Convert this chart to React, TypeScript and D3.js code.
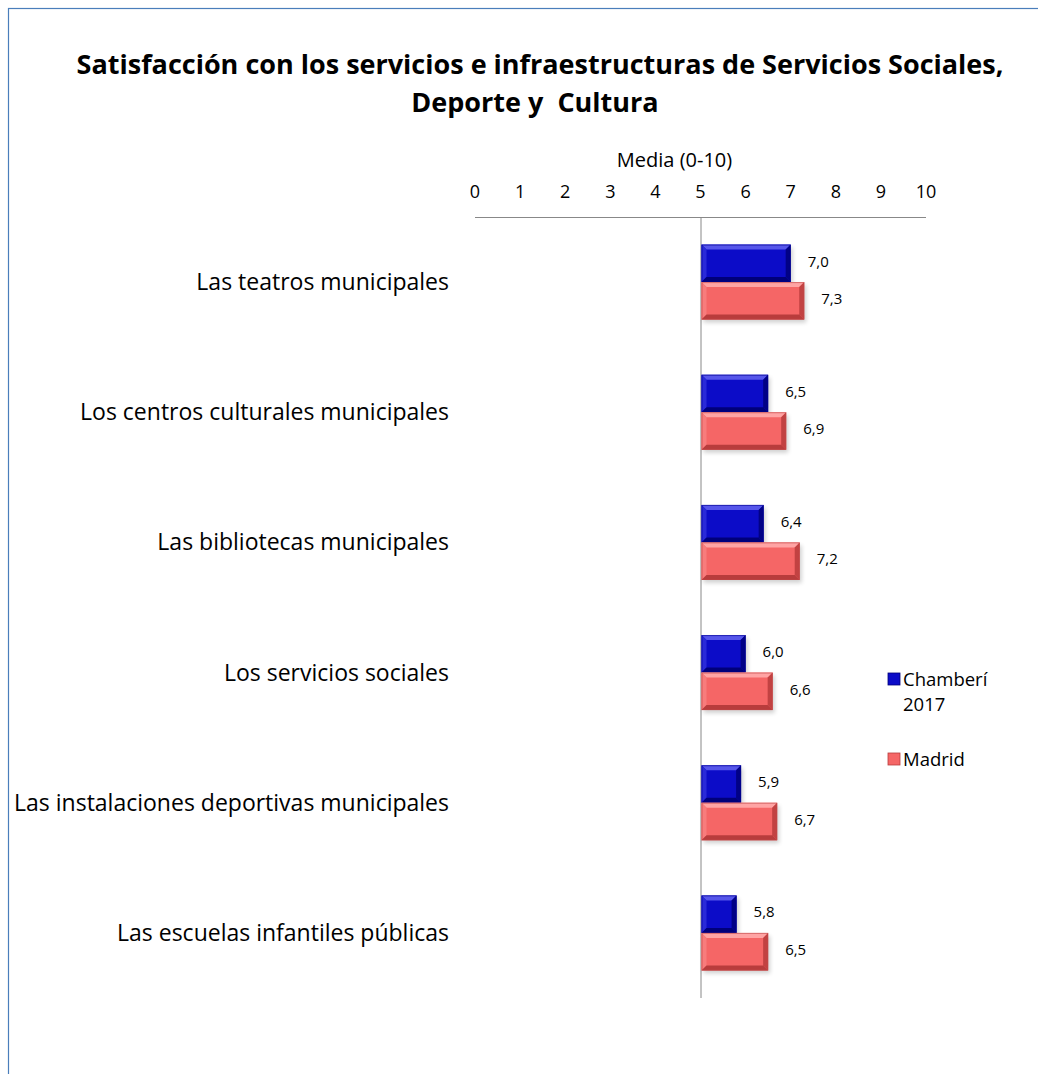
import React from "react";
import * as d3 from "d3";

const categories = [
  "Las teatros municipales",
  "Los centros culturales municipales",
  "Las bibliotecas municipales",
  "Los servicios sociales",
  "Las instalaciones deportivas municipales",
  "Las escuelas infantiles públicas",
];
const seriesNames = ["Chamberí 2017", "Madrid"];
const chamberi = [7.0, 6.5, 6.4, 6.0, 5.9, 5.8];
const madrid = [7.3, 6.9, 7.2, 6.6, 6.7, 6.5];
const ticks = [0, 1, 2, 3, 4, 5, 6, 7, 8, 9, 10];

const W = 1038;
const H = 1074;
const FONT = "'Open Sans', 'Noto Sans', sans-serif";

const palettes = [
  { face: "#0c0cc8", light: "#5656ea", mid: "#2a2ad8", dark: "#00007a", edge: "#000090" },
  { face: "#f56666", light: "#ffa4a4", mid: "#f87c7c", dark: "#b83c3c", edge: "#c04848" },
];

function BevelBar({ x0, x1, y, h, p }: { x0: number; x1: number; y: number; h: number; p: any }) {
  const w = x1 - x0;
  const b = Math.min(5, h / 4, w / 4);
  const r = x0 + w;
  const bt = y + h;
  return (
    <g>
      <rect x={x0 + 2} y={y + 3} width={w} height={h} fill="#000" opacity={0.18} filter="url(#shadow)" />
      <rect x={x0} y={y} width={w} height={h} fill={p.face} />
      <polygon points={`${x0},${y} ${r},${y} ${r - b},${y + b} ${x0 + b},${y + b}`} fill={p.light} />
      <polygon points={`${x0},${y} ${x0 + b},${y + b} ${x0 + b},${bt - b} ${x0},${bt}`} fill={p.mid} />
      <polygon points={`${r},${y} ${r},${bt} ${r - b},${bt - b} ${r - b},${y + b}`} fill={p.dark} opacity={0.85} />
      <polygon points={`${x0},${bt} ${x0 + b},${bt - b} ${r - b},${bt - b} ${r},${bt}`} fill={p.dark} />
      <rect x={x0 + 0.5} y={y + 0.5} width={w - 1} height={h - 1} fill="none" stroke={p.edge} strokeWidth={1} opacity={0.6} />
    </g>
  );
}

export default function App() {
  const x = d3.scaleLinear().domain([0, 10]).range([475, 926]);
  const y = d3.scaleBand<string>().domain(categories).range([217, 998]).paddingInner(0.424).paddingOuter(0.212);
  const ySub = d3.scaleBand<string>().domain(seriesNames).range([0, y.bandwidth()]);
  const values = [chamberi, madrid];
  const fmt = (v: number) => v.toFixed(1).replace(".", ",");
  const base = x(5);

  return (
    <svg width={W} height={H} style={{ position: "absolute", left: 0, top: 0 }}>
      <defs>
        <filter id="shadow" x="-10%" y="-30%" width="130%" height="180%">
          <feGaussianBlur stdDeviation="2" />
        </filter>
      </defs>
      <rect x={0} y={0} width={W} height={H} fill="#fff" />
      <rect x={8.5} y={8.5} width={W + 20} height={H + 20} fill="none" stroke="#4a7ebb" strokeWidth={1.2} />

      <text x={540} y={74} textAnchor="middle" fontFamily={FONT} fontWeight="bold" fontSize={27} fill="#000">
        Satisfacción con los servicios e infraestructuras de Servicios Sociales,
      </text>
      <text x={535} y={112} textAnchor="middle" fontFamily={FONT} fontWeight="bold" fontSize={27} fill="#000" style={{ whiteSpace: "pre" }}>
        Deporte y  Cultura
      </text>

      <text x={x(5) - 26} y={167} textAnchor="middle" fontFamily={FONT} fontSize={20} fill="#000">
        Media (0-10)
      </text>
      {ticks.map((t) => (
        <text key={t} x={x(t)} y={198} textAnchor="middle" fontFamily={FONT} fontSize={18} fill="#000">
          {t}
        </text>
      ))}
      <line x1={x(0)} x2={x(10)} y1={217.5} y2={217.5} stroke="#888" strokeWidth={1} />
      <line x1={base + 0.5} x2={base + 0.5} y1={217} y2={998} stroke="#888" strokeWidth={1} />

      {categories.map((c, i) => (
        <g key={c}>
          <text
            x={449}
            y={(y(c) as number) + y.bandwidth() / 2}
            dy="0.35em"
            textAnchor="end"
            fontFamily={FONT}
            fontSize={23}
            fill="#000"
          >
            {c}
          </text>
          {seriesNames.map((s, si) => {
            const v = values[si][i];
            const yy = (y(c) as number) + (ySub(s) as number);
            return (
              <g key={s}>
                <BevelBar x0={base + 1} x1={x(v)} y={yy} h={ySub.bandwidth()} p={palettes[si]} />
                <text
                  x={x(v) + 17}
                  y={yy + ySub.bandwidth() / 2 - 2}
                  dy="0.35em"
                  fontFamily={FONT}
                  fontSize={15}
                  fill="#000"
                >
                  {fmt(v)}
                </text>
              </g>
            );
          })}
        </g>
      ))}

      {/* Legend */}
      <g>
        <rect x={888} y={673} width={12} height={12} fill={palettes[0].face} stroke={palettes[0].dark} strokeWidth={0.8} />
        <text x={903} y={686} fontFamily={FONT} fontSize={18.5} fill="#000">Chamberí</text>
        <text x={903} y={711} fontFamily={FONT} fontSize={18.5} fill="#000">2017</text>
        <rect x={888} y={753} width={12} height={12} fill={palettes[1].face} stroke={palettes[1].dark} strokeWidth={0.8} />
        <text x={903} y={766} fontFamily={FONT} fontSize={18.5} fill="#000">Madrid</text>
      </g>
    </svg>
  );
}
